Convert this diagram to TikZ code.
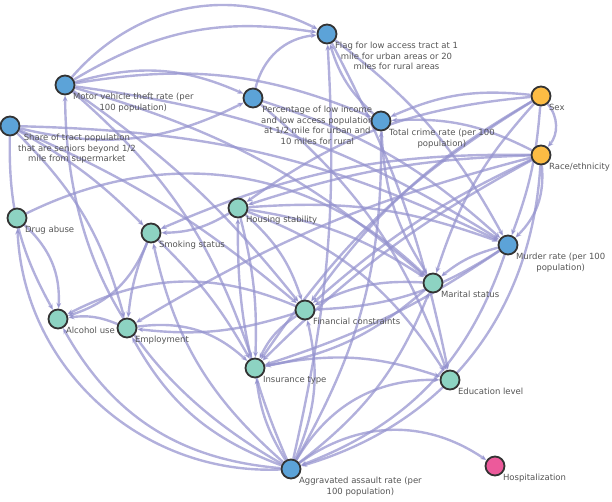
\documentclass[tikz,border=0pt]{standalone}
\usepackage{fontspec}
\usepackage{xcolor}
\usepackage{tikz}
\usetikzlibrary{arrows.meta, backgrounds}

\newfontfamily\graphfont{DejaVu Sans}

\definecolor{edgeCol}{RGB}{148,146,206}
\definecolor{blueFill}{RGB}{92,163,216}
\definecolor{tealFill}{RGB}{141,211,194}
\definecolor{orangeFill}{RGB}{252,188,68}
\definecolor{pinkFill}{RGB}{236,90,155}
\definecolor{labelCol}{RGB}{85,85,85}

\begin{document}
\begin{tikzpicture}[
		x=1pt, y=-1pt,
		font=\graphfont\fontsize{8.5}{10.5}\selectfont,
		baseNode/.style={circle, draw=black!80, line width=1.8pt, minimum size=19pt, inner sep=0pt},
		blueNode/.style={baseNode, fill=blueFill},
		tealNode/.style={baseNode, fill=tealFill},
		orangeNode/.style={baseNode, fill=orangeFill},
		pinkNode/.style={baseNode, fill=pinkFill},
		lbl/.style={text=labelCol, align=center, inner sep=0.5pt},
		every label/.style={lbl},
		link/.style={-{Stealth[length=6pt, width=5pt]}, draw=edgeCol, line width=2.4pt, draw opacity=0.72}
		]
		\useasboundingbox (0,0) rectangle (612,502);

		% Nodos
		\node[blueNode, label={below right:Motor vehicle theft rate (per\\100 population)}] (mvt) at (65,85) {};
		\node[blueNode, label={below right:Percentage of low income\\and low access population\\at 1/2 mile for urban and\\10 miles for rural}] (pli) at (253,98) {};
		\node[blueNode, label={below right:Flag for low access tract at 1\\mile for urban areas or 20\\miles for rural areas}] (fla) at (327,34) {};
		\node[blueNode, label={below right:Share of tract population\\that are seniors beyond 1/2\\mile from supermarket}] (stp) at (10,126) {};
		\node[blueNode, label={below right:Total crime rate (per 100\\population)}] (tcr) at (381,121) {};
		\node[orangeNode, label={below right:Sex}] (sex) at (541,96) {};
		\node[orangeNode, label={below right:Race/ethnicity}] (race) at (541,155) {};
		\node[tealNode, label={below right:Drug abuse}] (drug) at (17,218) {};
		\node[tealNode, label={below right:Housing stability}] (hous) at (238,208) {};
		\node[tealNode, label={below right:Smoking status}] (smok) at (151,233) {};
		\node[blueNode, label={below right:Murder rate (per 100\\population)}] (murd) at (508,245) {};
		\node[tealNode, label={below right:Marital status}] (mari) at (433,283) {};
		\node[tealNode, label={below right:Financial constraints}] (fin) at (305,310) {};
		\node[tealNode, label={below right:Alcohol use}] (alc) at (58,319) {};
		\node[tealNode, label={below right:Employment}] (emp) at (127,328) {};
		\node[tealNode, label={below right:Insurance type}] (ins) at (255,368) {};
		\node[tealNode, label={below right:Education level}] (edu) at (450,380) {};
		\node[blueNode, label={below right:Aggravated assault rate (per\\100 population)}] (aggr) at (291,469) {};
		\node[pinkNode, label={below right:Hospitalization}] (hosp) at (495,466) {};

		% Flechas
		\begin{scope}[on background layer]
			% desde arriba a la izquierda
			\draw[link] (mvt) to[bend left=38] (fla);
			\draw[link] (mvt) to[bend left=20] (fla);
			\draw[link] (mvt) to[bend left=16] (tcr);
			\draw[link] (mvt) to[bend left=20] (pli);
			\draw[link] (mvt) to[bend left=12] (murd);
			\draw[link] (mvt) to[bend left=12] (mari);
			\draw[link] (mvt) to[bend left=15] (ins);
			\draw[link] (mvt) to[bend left=8] (fin);
			\draw[link] (stp) to[bend right=20] (pli);
			\draw[link] (stp) to[bend left=8] (smok);
			\draw[link] (stp) to[bend left=8] (fin);
			\draw[link] (stp) to[bend left=12] (murd);
			\draw[link] (stp) to[bend right=15] (alc);
			\draw[link] (stp) to[bend left=15] (emp);
			\draw[link] (pli) to[bend left=35] (fla);
			\draw[link] (pli) to[bend left=12] (murd);
			\draw[link] (pli) to[bend left=15] (edu);
			\draw[link] (tcr) to[bend left=15] (fla);
			\draw[link] (fla) to[bend left=12] (murd);
			\draw[link] (fla) to[bend left=8] (edu);
			\draw[link] (tcr) to[bend right=15] (mari);
			% Sex y Race/ethnicity
			\draw[link] (sex) to[bend left=40] (race);
			\draw[link] (sex) to[bend right=12] (mari);
			\draw[link] (sex) to[bend right=12] (fin);
			\draw[link] (sex) to[bend right=12] (ins);
			\draw[link] (sex) to[bend right=15] (hous);
			\draw[link] (sex) to[bend right=15] (tcr);
			\draw[link] (sex) to[bend left=8] (murd);
			\draw[link] (race) to[bend left=25] (murd);
			\draw[link] (race) to[bend left=35] (aggr);
			\draw[link] (race) to[bend right=15] (tcr);
			\draw[link] (race) to[bend right=8] (hous);
			\draw[link] (race) to[bend right=8] (fin);
			\draw[link] (race) to[bend right=8] (ins);
			\draw[link] (race) to[bend right=8] (emp);
			\draw[link] (race) to[bend right=12] (smok);
			% Drug abuse
			\draw[link] (drug) to[bend left=25] (alc);
			\draw[link] (drug) to[bend left=35] (mari);
			% Aggravated assault
			\draw[link] (aggr) to[bend left=45] (drug);
			\draw[link] (aggr) to[bend left=28] (alc);
			\draw[link] (aggr) to[bend left=20] (emp);
			\draw[link] (aggr) to[bend left=30] (mvt);
			\draw[link] (aggr) to[bend left=12] (ins);
			\draw[link] (aggr) to[bend left=12] (hous);
			\draw[link] (aggr) to[bend right=8] (fla);
			\draw[link] (aggr) to[bend right=15] (tcr);
			\draw[link] (aggr) to[bend left=35] (hosp);
			\draw[link] (aggr) to[bend left=30] (edu);
			\draw[link] (aggr) to[bend right=18] (fin);
			\draw[link] (aggr) to[bend right=15] (mari);
			\draw[link] (aggr) to[bend left=18] (smok);
			\draw[link] (murd) to[bend left=25] (aggr);
			% Housing stability
			\draw[link] (hous) to[bend left=8] (ins);
			\draw[link] (hous) to[bend left=15] (fin);
			\draw[link] (hous) to[bend left=18] (edu);
			\draw[link] (hous) to[bend left=15] (smok);
			\draw[link] (hous) to[bend left=12] (mari);
			\draw[link] (hous) to[bend left=12] (murd);
			% Smoking, Employment y Financial
			\draw[link] (smok) to[bend left=25] (alc);
			\draw[link] (smok) to[bend right=8] (emp);
			\draw[link] (smok) to[bend left=8] (ins);
			\draw[link] (emp) to[bend right=15] (alc);
			\draw[link] (emp) to[bend left=25] (ins);
			\draw[link] (fin) to[bend left=12] (emp);
			\draw[link] (fin) to[bend right=25] (alc);
			\draw[link] (fin) to[bend right=15] (ins);
			% Marital, Murder e Insurance
			\draw[link] (mari) to[bend left=15] (ins);
			\draw[link] (mari) to[bend right=15] (fin);
			\draw[link] (murd) to[bend left=15] (fin);
			\draw[link] (murd) to[bend left=8] (ins);
			\draw[link] (murd) to[bend right=12] (mari);
			\draw[link] (ins) to[bend left=15] (edu);
		\end{scope}

	\end{tikzpicture}
\end{document}
